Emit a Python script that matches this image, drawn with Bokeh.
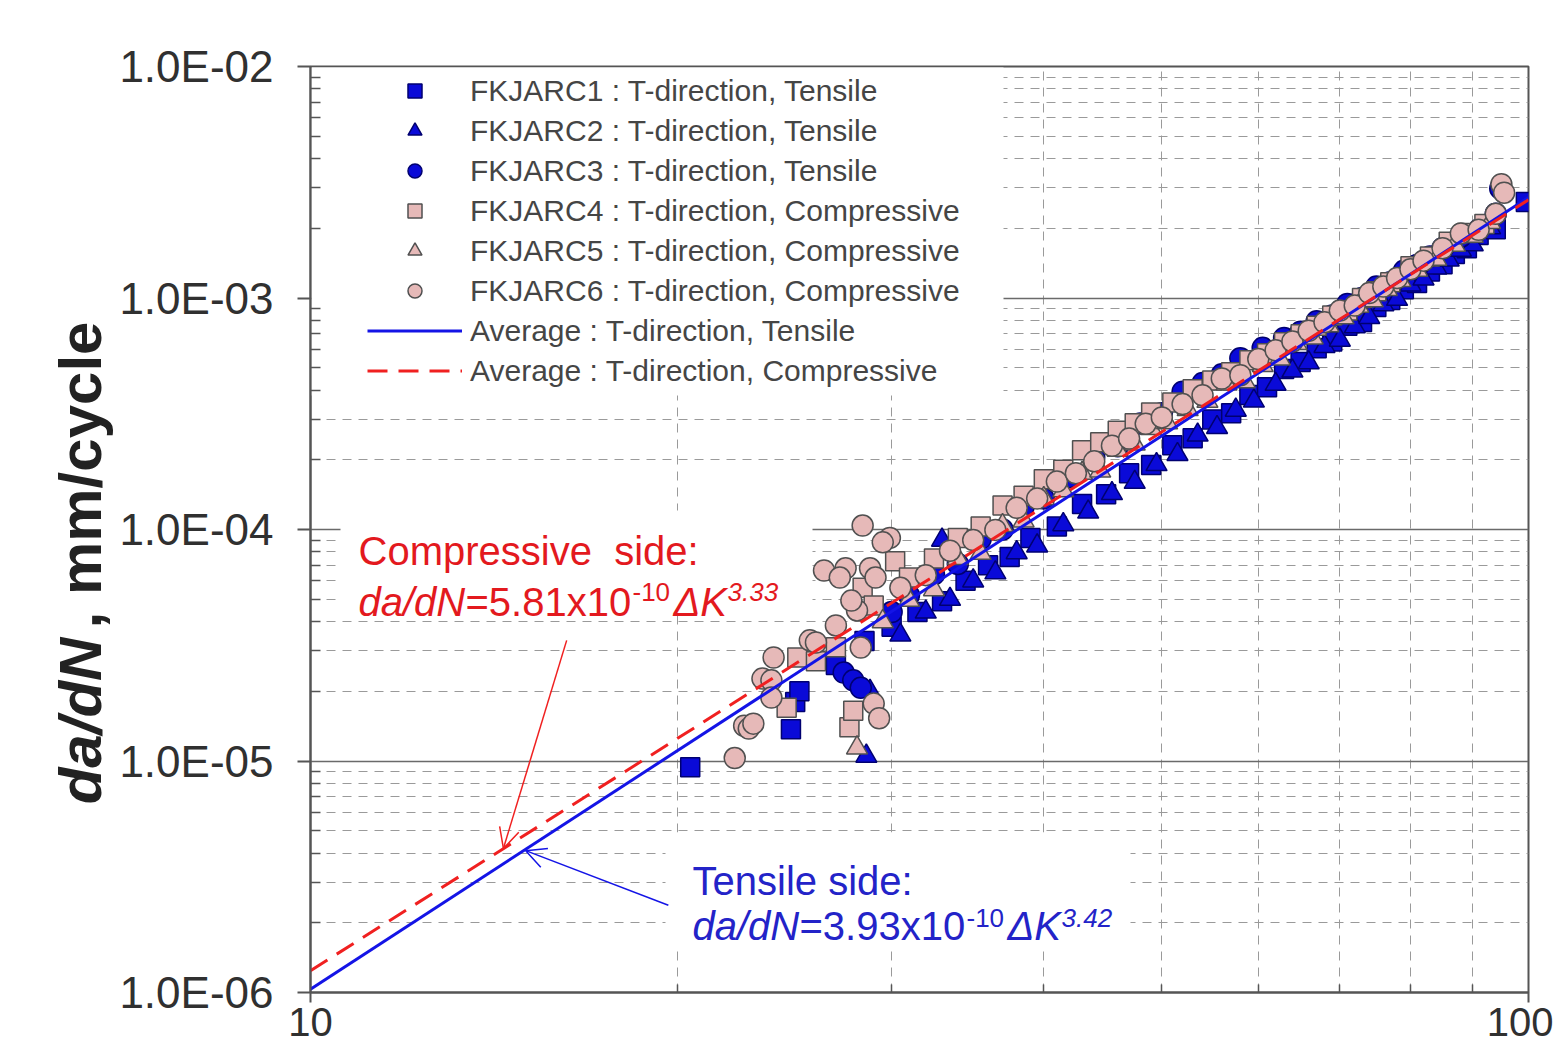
from math import pi
from bokeh.plotting import figure
from bokeh.layouts import row
from bokeh.models import (Range1d, FixedTicker, CustomJSTickFormatter, Legend, LegendItem,
                          Label, BoxAnnotation, Arrow, OpenHead)
from bokeh.core.properties import value
from bokeh.embed import file_html
from bokeh.resources import INLINE

# ---------------- data ----------------
x_major = [10, 100]
x_minor = [20, 30, 40, 50, 60, 70, 80, 90]
x_labels = ["10", "100"]
y_major = [1e-6, 1e-5, 1e-4, 1e-3, 1e-2]
y_labels = ["1.0E-06", "1.0E-05", "1.0E-04", "1.0E-03", "1.0E-02"]
y_minor = [k * 10.0 ** e for e in range(-6, -2) for k in range(2, 10)]
y_title_parts = ["da/dN", ", mm/cycle"]

series_names = [
    "FKJARC1 : T-direction, Tensile",
    "FKJARC2 : T-direction, Tensile",
    "FKJARC3 : T-direction, Tensile",
    "FKJARC4 : T-direction, Compressive",
    "FKJARC5 : T-direction, Compressive",
    "FKJARC6 : T-direction, Compressive",
]

s1_dk = [20.5, 24.8, 25.0, 25.2, 27.0, 28.5, 30.0, 31.5, 33.0, 34.5, 36.0, 37.5, 39.0,
         41.0, 43.0, 45.0, 47.0, 49.0, 51.0, 53.0, 55.0, 57.0, 59.0, 61.0, 63.0, 65.0,
         67.0, 69.0, 71.0, 73.0, 75.0, 77.0, 79.0, 81.0, 83.0, 85.0, 87.0, 89.0, 91.0,
         92.7, 94.0, 99.5]
s1_v = [9.4e-6, 1.37e-5, 1.8e-5, 2.0e-5, 2.6e-5, 3.3e-5, 3.8e-5, 4.4e-5, 4.9e-5, 6.0e-5,
        7.0e-5, 7.6e-5, 9.2e-5, 1.03e-4, 1.29e-4, 1.42e-4, 1.75e-4, 1.9e-4, 2.31e-4,
        2.48e-4, 2.99e-4, 3.18e-4, 3.81e-4, 4.12e-4, 4.93e-4, 5.29e-4, 6.07e-4, 6.49e-4,
        7.58e-4, 7.87e-4, 9.14e-4, 9.8e-4, 1.09e-3, 1.16e-3, 1.3e-3, 1.4e-3, 1.55e-3,
        1.64e-3, 1.87e-3, 2.05e-3, 1.98e-3, 2.6e-3]

s2_dk = [28.6, 28.8, 30.5, 32.0, 33.0, 33.5, 35.0, 36.5, 38.0, 39.5, 41.5, 43.5, 45.5,
         47.5, 49.5, 51.5, 53.5, 55.5, 57.5, 59.5, 62.0, 64.0, 66.0, 68.0, 70.0, 72.0,
         74.0, 76.0, 78.0, 80.0, 82.0, 84.0, 86.0, 88.0, 90.0, 93.0]
s2_v = [1.05e-5, 2.0e-5, 3.5e-5, 4.4e-5, 9.0e-5, 5.0e-5, 6.0e-5, 6.5e-5, 7.95e-5, 8.5e-5,
        1.05e-4, 1.19e-4, 1.43e-4, 1.6e-4, 1.91e-4, 2.11e-4, 2.56e-4, 2.76e-4, 3.28e-4,
        3.59e-4, 4.24e-4, 4.84e-4, 5.25e-4, 6.18e-4, 6.58e-4, 7.51e-4, 8.25e-4, 9.35e-4,
        9.88e-4, 1.14e-3, 1.21e-3, 1.35e-3, 1.46e-3, 1.61e-3, 1.7e-3, 2.01e-3]

s3_dk = [27.4, 27.9, 28.3, 30.0, 31.0, 32.5, 34.0, 35.5, 37.0, 38.5, 40.0, 42.0, 44.0,
         46.0, 48.0, 50.0, 52.0, 54.0, 56.0, 58.0, 60.5, 63.0, 65.0, 67.0, 69.0, 71.0,
         73.0, 75.0, 77.0, 79.0, 81.0, 83.0, 85.0, 88.0, 91.0, 94.0, 94.8]
s3_v = [2.41e-5, 2.23e-5, 2.07e-5, 4.4e-5, 5.2e-5, 6.4e-5, 7.1e-5, 9.1e-5, 1.0e-4, 1.25e-4,
        1.36e-4, 1.68e-4, 2.05e-4, 2.29e-4, 2.87e-4, 3.18e-4, 3.94e-4, 4.29e-4, 4.68e-4,
        5.49e-4, 6.09e-4, 6.72e-4, 7.15e-4, 7.94e-4, 8.4e-4, 9.43e-4, 1.0e-3, 1.12e-3,
        1.17e-3, 1.31e-3, 1.39e-3, 1.51e-3, 1.64e-3, 1.84e-3, 1.97e-3, 2.31e-3, 2.97e-3]

s4_dk = [24.6, 25.1, 27.7, 27.9, 28.4, 30.2, 26.0, 27.0, 29.0, 31.0, 32.5, 34.0, 35.5,
         37.0, 38.5, 40.0, 41.5, 43.0, 44.5, 46.0, 47.5, 49.0, 51.0, 53.0, 55.0, 57.0,
         59.0, 61.0, 63.0, 65.0, 67.0, 69.0, 71.0, 73.0, 75.0, 77.0, 80.0, 83.0, 86.0,
         89.0, 92.0]
s4_v = [1.7e-5, 2.8e-5, 1.4e-5, 1.65e-5, 5.6e-5, 7.3e-5, 2.7e-5, 3.1e-5, 4.7e-5, 6.2e-5,
        7.5e-5, 9.2e-5, 1.03e-4, 1.27e-4, 1.4e-4, 1.65e-4, 1.81e-4, 2.2e-4, 2.38e-4,
        2.67e-4, 2.88e-4, 3.2e-4, 3.54e-4, 4.03e-4, 4.4e-4, 4.78e-4, 5.38e-4, 5.77e-4,
        6.44e-4, 6.97e-4, 7.59e-4, 8.4e-4, 8.84e-4, 1.0e-3, 1.07e-3, 1.17e-3, 1.37e-3,
        1.51e-3, 1.75e-3, 1.91e-3, 2.09e-3]

s5_dk = [28.1, 29.5, 31.0, 32.5, 34.0, 35.5, 37.0, 38.5, 40.0, 41.5, 43.0, 44.5, 46.0,
         47.5, 49.0, 50.5, 52.5, 54.5, 56.5, 58.5, 60.5, 62.5, 64.5, 66.5, 68.5, 70.5,
         72.5, 74.5, 76.5, 78.5, 81.0, 84.0, 87.0, 90.0, 93.0]
s5_v = [1.14e-5, 4.0e-5, 4.95e-5, 5.5e-5, 7.5e-5, 7.9e-5, 1.04e-4, 1.09e-4, 1.36e-4,
        1.47e-4, 1.75e-4, 1.79e-4, 2.2e-4, 2.34e-4, 2.73e-4, 2.89e-4, 3.3e-4, 3.58e-4,
        4.25e-4, 4.35e-4, 5.11e-4, 5.45e-4, 6.36e-4, 6.73e-4, 7.6e-4, 8.22e-4, 9.22e-4,
        9.73e-4, 1.09e-3, 1.19e-3, 1.32e-3, 1.47e-3, 1.69e-3, 1.85e-3, 2.12e-3]

s6_dk = [22.3, 22.7, 22.9, 23.1, 23.5, 23.9, 24.0, 23.9, 25.7, 26.4, 27.5, 27.2, 28.8,
         29.1, 28.4, 29.9, 29.5, 29.0, 29.3, 28.3, 28.1, 27.8,
         26.0, 27.0, 30.5, 32.0, 33.5, 35.0, 36.5, 38.0, 39.5, 41.0, 42.5, 44.0, 45.5,
         47.0, 48.5, 50.0, 52.0, 54.0, 56.0, 58.0, 60.0, 62.0, 64.0, 66.0, 68.0, 70.0,
         72.0, 74.0, 76.0, 78.0, 80.0, 82.0, 85.0, 88.0, 91.0, 94.0, 95.0, 95.5]
s6_v = [1.03e-5, 1.42e-5, 1.38e-5, 1.45e-5, 2.27e-5, 2.23e-5, 2.8e-5, 1.88e-5, 3.32e-5,
        6.65e-5, 6.8e-5, 6.2e-5, 6.8e-5, 6.2e-5, 1.04e-4, 9.2e-5, 8.8e-5, 1.77e-5, 1.53e-5,
        3.09e-5, 4.47e-5, 4.93e-5,
        3.25e-5, 3.85e-5, 5.6e-5, 6.35e-5, 8.1e-5, 9.0e-5, 9.96e-5, 1.24e-4, 1.36e-4,
        1.61e-4, 1.75e-4, 1.97e-4, 2.3e-4, 2.47e-4, 2.86e-4, 3.05e-4, 3.48e-4, 3.8e-4,
        4.49e-4, 4.64e-4, 5.45e-4, 5.94e-4, 6.49e-4, 7.22e-4, 7.85e-4, 8.82e-4, 9.27e-4,
        1.05e-3, 1.12e-3, 1.22e-3, 1.33e-3, 1.45e-3, 1.64e-3, 1.9e-3, 1.97e-3, 2.31e-3,
        3.1e-3, 2.85e-3]

fit_names = ["Average : T-direction, Tensile", "Average : T-direction, Compressive"]
fit_C = [3.93e-10, 5.81e-10]
fit_m = [3.42, 3.33]
fit_dk = [10, 100]

# ---------------- styling ----------------
FONT = "Liberation Sans"
BLUE_FILL, BLUE_LINE = "#0A0AD8", "#000070"
PINK_FILL, PINK_LINE = "#E6B9B8", "#505050"
AX = "#555555"
RED_T, BLUE_T = "#E3191E", "#2323C8"
H = 1053
TW = 116

# ---------- narrow panel holding the rotated y-axis title ----------
tp = figure(width=TW, height=H, x_range=Range1d(0, TW), y_range=Range1d(0, H),
            x_axis_location=None, y_axis_location=None,
            output_backend="svg", toolbar_location=None, min_border=0)
tp.grid.visible = False
tp.outline_line_color = None
tp.background_fill_color = "white"
tp.border_fill_color = "white"
tp.text(x=[80], y=[214], text=[y_title_parts[0]], angle=pi / 2, text_align="left",
        text_baseline="middle", text_font=value(FONT), text_font_style="bold italic",
        text_font_size="60px", text_color="#222222")
tp.text(x=[80], y=[414], text=[y_title_parts[1]], angle=pi / 2, text_align="left",
        text_baseline="middle", text_font=value(FONT), text_font_style="bold",
        text_font_size="60px", text_color="#222222")

# ---------------- main chart ----------------
p = figure(width=1553 - TW, height=H, x_axis_type="log", y_axis_type="log",
           x_range=Range1d(10, 100), y_range=Range1d(1e-6, 1e-2),
           output_backend="svg", toolbar_location=None,
           min_border_left=310 - TW, min_border_right=25, min_border_top=66,
           min_border_bottom=61)
p.background_fill_color = "white"
p.border_fill_color = "white"
p.outline_line_color = AX
p.outline_line_width = 2

fmt_code = """
for (let i = 0; i < vals.length; i++) {
  if (Math.abs(Math.log10(vals[i]) - Math.log10(tick)) < 1e-6) { return labs[i]; }
}
return "";
"""
p.xaxis.ticker = FixedTicker(ticks=x_major, minor_ticks=x_minor)
p.yaxis.ticker = FixedTicker(ticks=y_major, minor_ticks=y_minor)
p.xaxis.formatter = CustomJSTickFormatter(args=dict(vals=x_major, labs=x_labels), code=fmt_code)
p.yaxis.formatter = CustomJSTickFormatter(args=dict(vals=y_major, labs=y_labels), code=fmt_code)

for ax in (p.xaxis[0], p.yaxis[0]):
    ax.axis_line_color = AX
    ax.axis_line_width = 2
    ax.major_tick_line_color = AX
    ax.major_tick_line_width = 2
    ax.minor_tick_line_color = AX
    ax.minor_tick_line_width = 1.5
    ax.major_tick_in = 0
    ax.minor_tick_out = 0
    ax.major_label_text_font = FONT
    ax.major_label_text_color = "#303030"
p.yaxis.major_tick_out = 13
p.yaxis.minor_tick_in = 10
p.yaxis.major_label_standoff = 24
p.yaxis.major_label_text_font_size = "44px"
p.xaxis.major_tick_out = 10
p.xaxis.minor_tick_in = 8
p.xaxis.major_label_standoff = 5
p.xaxis.major_label_text_font_size = "40px"

p.xgrid.grid_line_color = None
p.xgrid.minor_grid_line_color = "#9a9a9a"
p.xgrid.minor_grid_line_dash = "9 7"
p.xgrid.minor_grid_line_width = 1
p.ygrid.grid_line_color = "#6a6a6a"
p.ygrid.grid_line_width = 1.5
p.ygrid.minor_grid_line_color = "#9a9a9a"
p.ygrid.minor_grid_line_dash = "9 7"
p.ygrid.minor_grid_line_width = 1

# white panels behind legend and the two equation boxes (screen px from frame bottom-left)
for (l, r, b, t) in [(1, 693, 597, 925), (30, 502, 377, 482), (355, 820, 47, 160)]:
    p.add_layout(BoxAnnotation(left=l, right=r, bottom=b, top=t,
                               left_units="screen", right_units="screen",
                               bottom_units="screen", top_units="screen",
                               fill_color="white", fill_alpha=1.0, line_alpha=0,
                               level="underlay"))

# ---------------- data glyphs ----------------
data = [(s1_dk, s1_v, "square", 19, BLUE_FILL, BLUE_LINE),
        (s2_dk, s2_v, "triangle", 21, BLUE_FILL, BLUE_LINE),
        (s3_dk, s3_v, "circle", 21, BLUE_FILL, BLUE_LINE),
        (s4_dk, s4_v, "square", 19, PINK_FILL, PINK_LINE),
        (s5_dk, s5_v, "triangle", 21, PINK_FILL, PINK_LINE),
        (s6_dk, s6_v, "circle", 21, PINK_FILL, PINK_LINE)]
items = []
for name, (xs, ys, mk, sz, fc, lc) in zip(series_names, data):
    r = p.scatter(xs, ys, marker=mk, size=sz, fill_color=fc, line_color=lc, line_width=1.5)
    items.append(LegendItem(label=name, renderers=[r]))

t_y = [fit_C[0] * k ** fit_m[0] for k in fit_dk]
c_y = [fit_C[1] * k ** fit_m[1] for k in fit_dk]
rt = p.line(fit_dk, t_y, line_color="#1414E6", line_width=3)
rc = p.line(fit_dk, c_y, line_color="#F02020", line_width=3, line_dash="20 11")
items.append(LegendItem(label=fit_names[0], renderers=[rt]))
items.append(LegendItem(label=fit_names[1], renderers=[rc]))

legend = Legend(items=items, location=(52, 599), orientation="vertical",
                glyph_width=95, glyph_height=35, label_height=35, label_standoff=8,
                spacing=5, padding=5, margin=0,
                background_fill_alpha=0, border_line_alpha=0,
                label_text_font=FONT, label_text_font_size="30px",
                label_text_color="#454545", label_text_baseline="middle")
p.add_layout(legend)

# ---------------- annotations ----------------
def lab(text, x, y, size, color, style="normal"):
    p.add_layout(Label(x=x, y=y, x_units="screen", y_units="screen", text=text,
                       text_font=FONT, text_font_size=f"{size}px", text_color=color,
                       text_font_style=style, text_baseline="alphabetic",
                       text_align="left"))

# compressive equation
lab("Compressive\u00a0 side:", 48, 442, 40, RED_T)
lab("da/dN", 48, 391, 40, RED_T, "italic")
lab("=5.81x10", 155, 391, 40, RED_T)
lab("-10", 322, 401, 26, RED_T)
lab("\u0394K", 363, 391, 40, RED_T, "italic")
lab("3.33", 417, 401, 26, RED_T, "italic")

# tensile equation
lab("Tensile side:", 382, 112, 40, BLUE_T)
lab("da/dN", 382, 67, 40, BLUE_T, "italic")
lab("=3.93x10", 489, 67, 40, BLUE_T)
lab("-10", 656, 75, 26, BLUE_T)
lab("\u0394K", 697, 67, 40, BLUE_T, "italic")
lab("3.42", 751, 75, 26, BLUE_T, "italic")

# arrows (data coordinates of start / tip)
p.add_layout(Arrow(end=OpenHead(size=20, line_color="#F02020", line_width=1.5),
                   x_start=16.23, y_start=3.32e-5, x_end=14.40, y_end=4.19e-6,
                   line_color="#F02020", line_width=1.5))
p.add_layout(Arrow(end=OpenHead(size=20, line_color="#1414E6", line_width=1.5),
                   x_start=19.67, y_start=2.38e-6, x_end=15.02, y_end=4.10e-6,
                   line_color="#1414E6", line_width=1.5))

layout = row(tp, p, spacing=0)
open("out.html", "w").write(file_html(layout, INLINE))
